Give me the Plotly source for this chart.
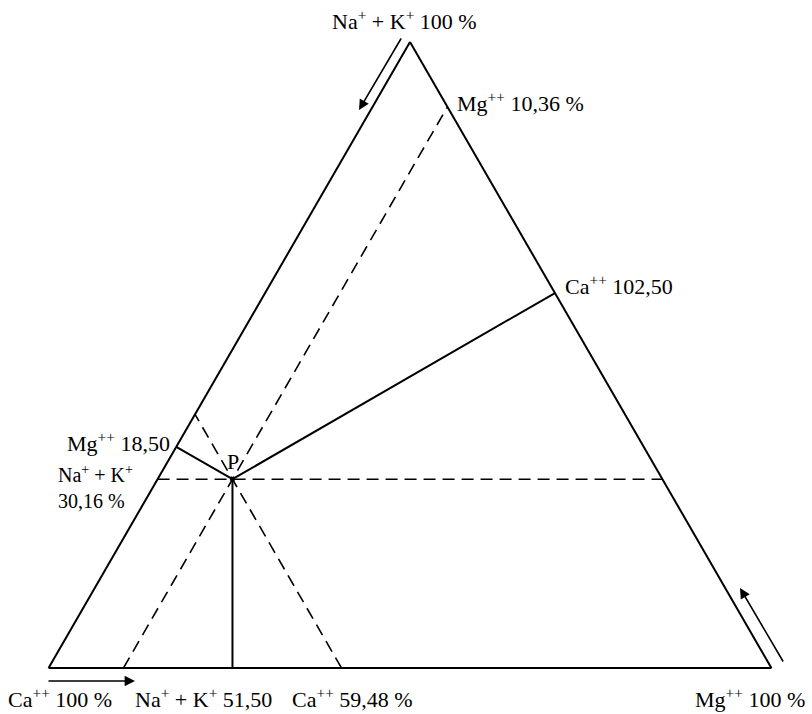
import plotly.graph_objects as go

# composition of point P (percent): Na+ + K+ (top), Ca++ (bottom left), Mg++ (bottom right)
p_names = ["Na+ + K+", "Ca++", "Mg++"]
p_values = [30.16, 59.48, 10.36]

# side labels (Na+ + K+ 51,50 / Mg++ 18,50 / Ca++ 102,50)
perp_labels = ["Na<sup>+</sup> + K<sup>+</sup> 51,50", "Mg<sup>++</sup> 18,50", "Ca<sup>++</sup> 102,50"]

W, H = 812, 714
M = dict(l=48, r=40, t=42, b=46)
FONT = "Liberation Serif, Times New Roman, serif"

na, ca, mg = p_values


def seg(a, b, c):
    return dict(a=a, b=b, c=c)


# constant-value lines through P (dashed)
dashed = [
    seg([na, na], [100 - na, 0], [0, 100 - na]),
    seg([0, 100 - mg], [100 - mg, 0], [mg, mg]),
    seg([0, 100 - ca], [ca, ca], [100 - ca, 0]),
]
# perpendiculars from P to the three sides (solid)
solid = [
    seg([na, 0], [ca, ca + na / 2], [mg, mg + na / 2]),
    seg([na, na + mg / 2], [ca, ca + mg / 2], [mg, 0]),
    seg([na, na + ca / 2], [ca, 0], [mg, mg + ca / 2]),
]

fig = go.Figure()
for s in dashed:
    fig.add_trace(go.Scatterternary(mode="lines", line=dict(color="black", width=1.6, dash="12px,7px"),
                                    hoverinfo="skip", **s))
for s in solid:
    fig.add_trace(go.Scatterternary(mode="lines", line=dict(color="black", width=2),
                                    hoverinfo="skip", **s))
fig.add_trace(go.Scatterternary(a=[na], b=[ca], c=[mg], mode="markers",
                                marker=dict(color="black", size=5), hoverinfo="skip"))

axis = dict(showticklabels=False, ticks="", showgrid=False, linecolor="black",
            linewidth=2, title=dict(text=""))

pw = W - M["l"] - M["r"]
ph = H - M["t"] - M["b"]


def px(x, y):
    return (x - M["l"]) / pw, (H - M["b"] - y) / ph


annotations = []


def label(text, x, y, anchor="left", size=22):
    xp, yp = px(x, y)
    annotations.append(dict(text=text, x=xp, y=yp, xref="paper", yref="paper", xanchor=anchor,
                            yanchor="middle", align="left", showarrow=False,
                            font=dict(size=size, color="black", family=FONT)))


def arrow(tail, head):
    xp, yp = px(*head)
    annotations.append(dict(text="", x=xp, y=yp, xref="paper", yref="paper", ax=tail[0] - head[0],
                            ay=tail[1] - head[1], showarrow=True, arrowhead=2, arrowsize=1.3,
                            arrowwidth=1.6, arrowcolor="black"))


label("Na<sup>+</sup> + K<sup>+</sup> 100 %", 330, 20)
label("Mg<sup>++</sup> 10,36 %", 455, 102)
label(perp_labels[2], 563, 285)
label(perp_labels[1], 172, 442, "right")
label("Na<sup>+</sup> + K<sup>+</sup><br>30,16 %", 56, 487, size=20)
label("P", 233, 461, "center")
label("Ca<sup>++</sup> 100 %", 6, 698)
label(perp_labels[0], 133, 698)
label("Ca<sup>++</sup> 59,48 %", 290, 698)
label("Mg<sup>++</sup> 100 %", 693, 698)

arrow((402, 37), (359, 110))
arrow((47, 681), (135, 681))
arrow((784, 663), (740, 588))

fig.update_layout(
    width=W, height=H, margin=M, showlegend=False,
    paper_bgcolor="white",
    ternary=dict(sum=100, bgcolor="white", aaxis=axis, baxis=axis, caxis=axis),
    annotations=annotations,
)

# drop the page's default body margin so the figure sits at the window origin
fig.write_html("out.html", config={"displayModeBar": False},
               post_script="document.body.style.margin='0';")
